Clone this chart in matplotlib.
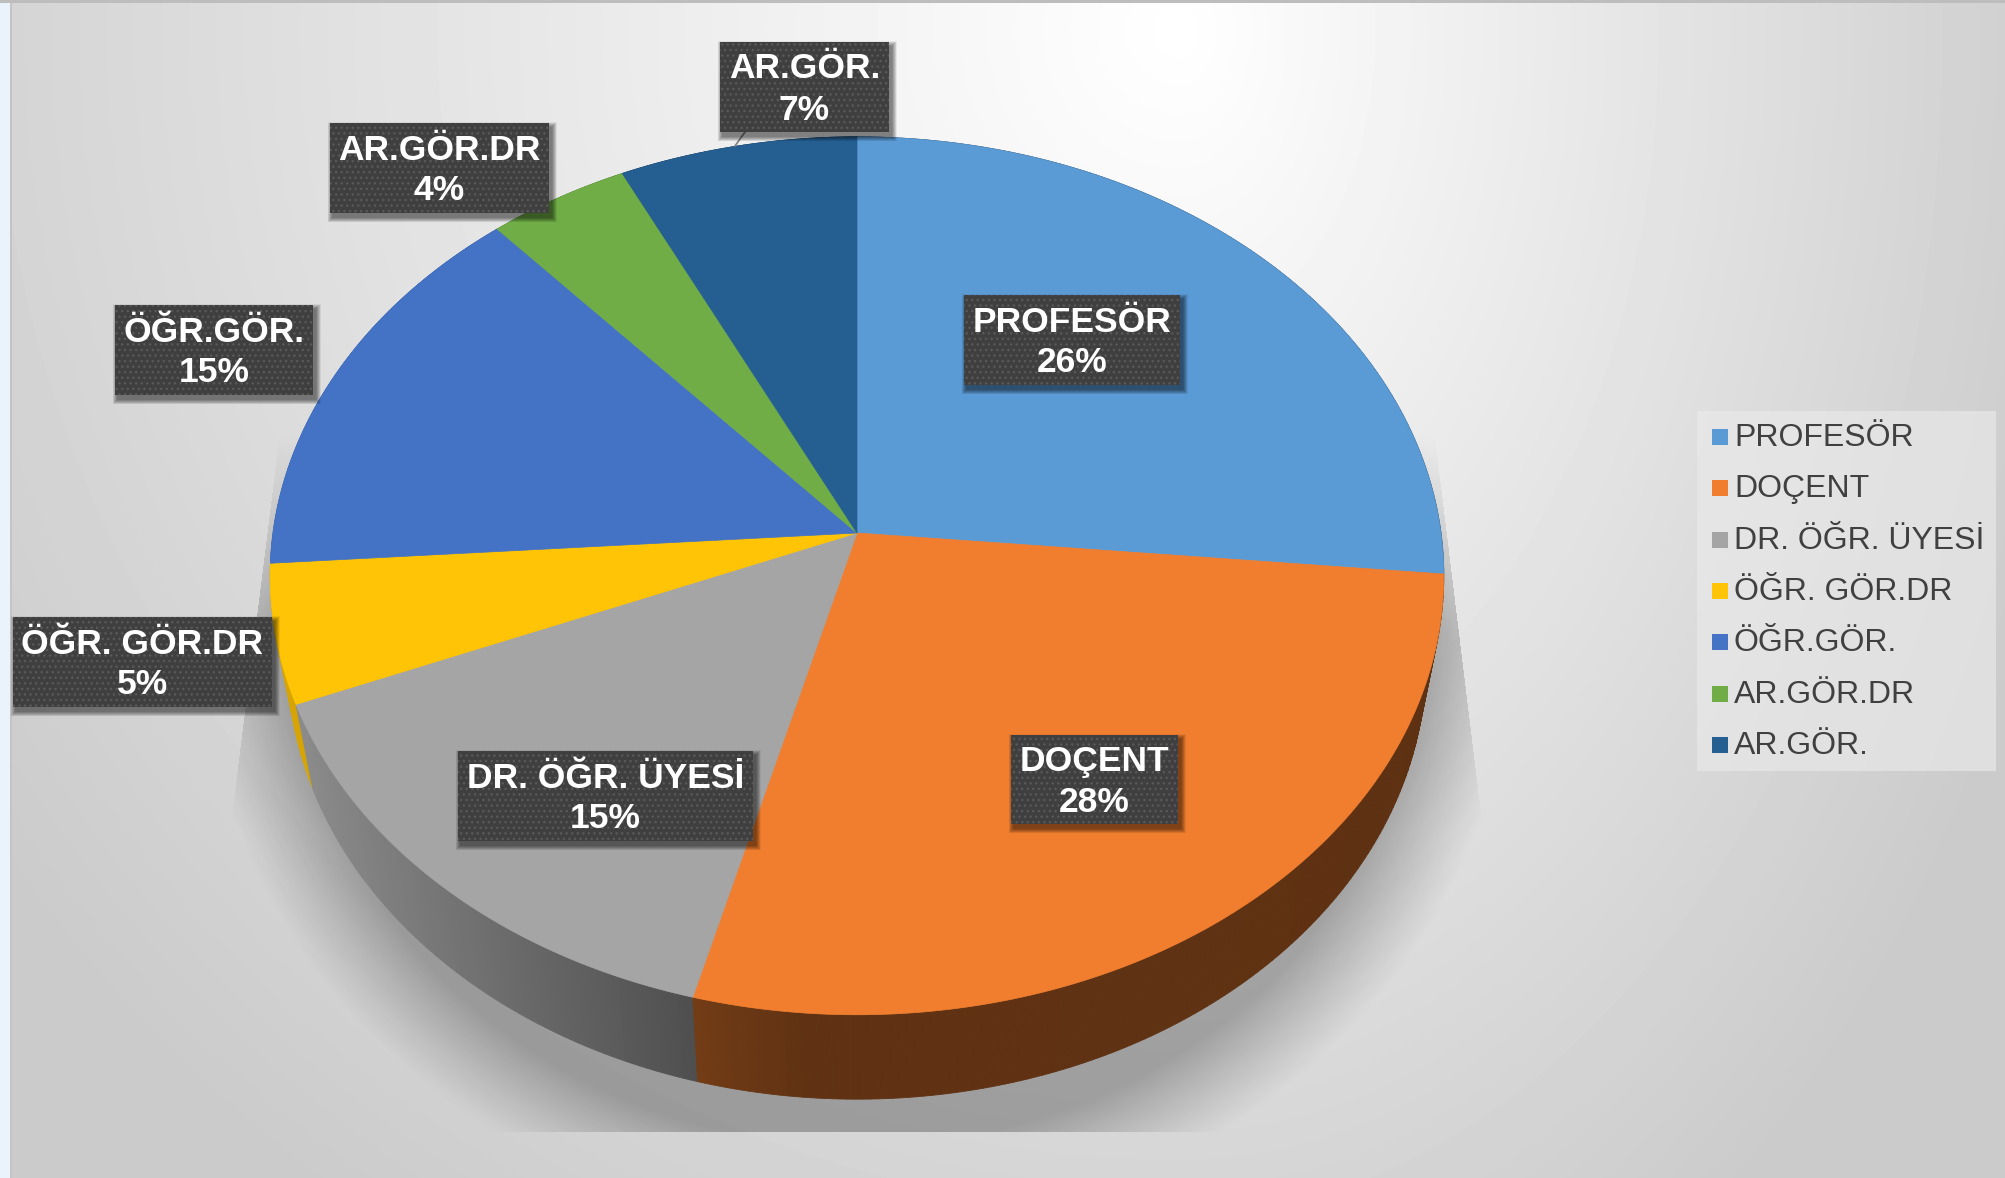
import matplotlib
matplotlib.use("Agg")
import matplotlib.pyplot as plt
import numpy as np
from matplotlib.patches import Rectangle, Polygon

plt.rcParams['font.family'] = ['Liberation Sans', 'DejaVu Sans']
plt.rcParams['hatch.linewidth'] = 1.0

# chart data
categories = ['PROFESÖR', 'DOÇENT', 'DR. ÖĞR. ÜYESİ', 'ÖĞR. GÖR.DR', 'ÖĞR.GÖR.', 'AR.GÖR.DR', 'AR.GÖR.']
values = [26.49, 27.61, 14.7, 5.1, 14.6, 4.3, 7.2]
colors = ['#5B9BD5', '#F17E2F', '#A5A5A5', '#FFC405', '#4472C4', '#70AD47', '#255E91']

# data label boxes in pixels: left, top, right, bottom
label_boxes = [(964, 295, 1180, 385), (1011, 735, 1178, 824), (458, 751, 753, 841),
               (13, 617, 272, 707), (115, 305, 313, 395), (330, 123, 549, 213), (720, 42, 889, 132)]

W, H = 2005, 1178
CX, CY = 857, 533      # apex of the pie
A, C, B = 434.8, 584.0, -0.0975   # perspective of the disc
DEPTH = 84.4
LOW_X = 0.97


def project(theta, r=1.0, low=False):
    # theta clockwise from 12 o'clock, on the unit disc, then into pixels
    x = r * np.sin(theta)
    y = -r * np.cos(theta)
    w = 1 + B * y
    px = C * x / w
    py = A * y / w
    if low:
        return CX + px * LOW_X, CY + py + DEPTH
    return CX + px, CY + py


def side_factor(x):
    return np.interp(x, [300, 700, 800, 1500], [0.84, 0.47, 0.40, 0.39])


def background(ax):
    xx, yy = np.meshgrid(np.arange(W), np.arange(H))
    dx = xx - 1180.0
    dx = np.where(dx < 0, dx / 1150.0, dx / 740.0)
    dy = (yy - 30.0) / 1150.0
    d = np.sqrt(dx ** 2 + dy ** 2)
    v = 255 - 52 * np.clip(d / 1.25, 0, 1)
    ax.imshow(v / 255.0, cmap='gray', vmin=0, vmax=1, extent=(0, W, H, 0), zorder=0, aspect='auto')
    ax.add_patch(Rectangle((0, 0), 10, H, fc='#EAF3FB', ec='none', zorder=1))
    ax.add_patch(Rectangle((10, 0), 2, H, fc='#C4C4C4', ec='none', zorder=1))
    ax.add_patch(Rectangle((0, 0), W, 2.5, fc='#BDBDBD', ec='none', zorder=1))


def shadow(ax):
    xx, yy = np.meshgrid(np.arange(W, dtype=float), np.arange(H, dtype=float))
    # soft halo around the lower rim
    d = np.sqrt(((xx - CX) / 575.0) ** 2 + ((yy - 640) / 520.0) ** 2)
    halo = np.clip((1.14 - d) / 0.17, 0, 1) ** 1.1
    # the wedge the shadow is cut to
    left = 278 + (yy - 445) * (230 - 278) / (827 - 445)
    right = 1437 + (yy - 457) * (1483 - 1437) / (833 - 457)
    inside = (xx > left) & (xx < right) & (yy < 1132) & (yy > 400)
    fade = np.clip((yy - 430) / 200.0, 0, 1)
    base = 0.05 * (1 - np.clip((yy - 640) / 190.0, 0, 1))
    alpha = (0.27 * halo * fade + base * fade) * inside
    rgba = np.zeros((H, W, 4))
    rgba[..., 3] = alpha
    ax.imshow(rgba, extent=(0, W, H, 0), zorder=2, aspect='auto')


def draw_pie(ax):
    edges = np.cumsum([0] + values) / np.sum(values) * 2 * np.pi
    quads = []
    for i, col in enumerate(colors):
        n = max(int((edges[i + 1] - edges[i]) / 0.012), 2)
        t = np.linspace(edges[i], edges[i + 1], n)
        rgb = np.array(matplotlib.colors.to_rgb(col))
        for t0, t1 in zip(t[:-1], t[1:]):
            x0, y0 = project(t0)
            x1, y1 = project(t1)
            x2, y2 = project(t1, low=True)
            x3, y3 = project(t0, low=True)
            f = side_factor((x0 + x1) / 2)
            quads.append(((y0 + y1) / 2, [(x0, y0), (x1, y1), (x2, y2), (x3, y3)], rgb * f))
    quads.sort(key=lambda q: q[0])
    for _, pts, c in quads:
        ax.add_patch(Polygon(pts, closed=True, fc=c, ec=c, lw=0.6, zorder=3))

    for i, col in enumerate(colors):
        t = np.linspace(edges[i], edges[i + 1], 160)
        px, py = project(t)
        ax.fill(np.r_[CX, px], np.r_[CY, py], fc=col, ec=col, lw=0.5, zorder=4)


def draw_labels(ax):
    # leader of the smallest outer label
    ax.plot([745, 735], [132, 146], color='#7F7F7F', lw=1.2, zorder=5)
    for name, val, (x0, y0, x1, y1) in zip(categories, values, label_boxes):
        for k in range(10):
            grow = 10 - k
            ax.add_patch(Rectangle((x0 + 3 - grow / 2, y0 + 4 - grow / 2), x1 - x0 + grow, y1 - y0 + grow,
                                   fc='black', ec='none', alpha=0.06, zorder=6))
        ax.add_patch(Rectangle((x0, y0), x1 - x0, y1 - y0, fc='#3F3F3F', ec='#595959',
                               lw=0, hatch='...', zorder=7))
        mid = (x0 + x1) / 2
        cy = (y0 + y1) / 2
        ax.text(mid, cy - 18, name, color='white', fontsize=25.5, fontweight='bold',
                ha='center', va='center', zorder=8)
        ax.text(mid, cy + 23, f"{round(val)}%", color='white', fontsize=25.5, fontweight='bold',
                ha='center', va='center', zorder=8)


def draw_legend(ax):
    ax.add_patch(Rectangle((1697, 411), 299, 360, fc='#EAEAEA', ec='none', alpha=0.65, zorder=5))
    ys = np.linspace(437, 745, len(categories))
    for name, col, y in zip(categories, colors, ys):
        ax.add_patch(Rectangle((1712, y - 8), 16, 16, fc=col, ec='none', zorder=6))
        ax.text(1734, y + 1, name, color='#404040', fontsize=23, ha='left', va='center', zorder=6)


fig = plt.figure(figsize=(20.05, 11.78), dpi=100)
ax = fig.add_axes([0, 0, 1, 1])
background(ax)
shadow(ax)
draw_pie(ax)
draw_labels(ax)
draw_legend(ax)
ax.set_xlim(0, W)
ax.set_ylim(H, 0)
ax.axis('off')
fig.savefig('out.png', dpi=100)
